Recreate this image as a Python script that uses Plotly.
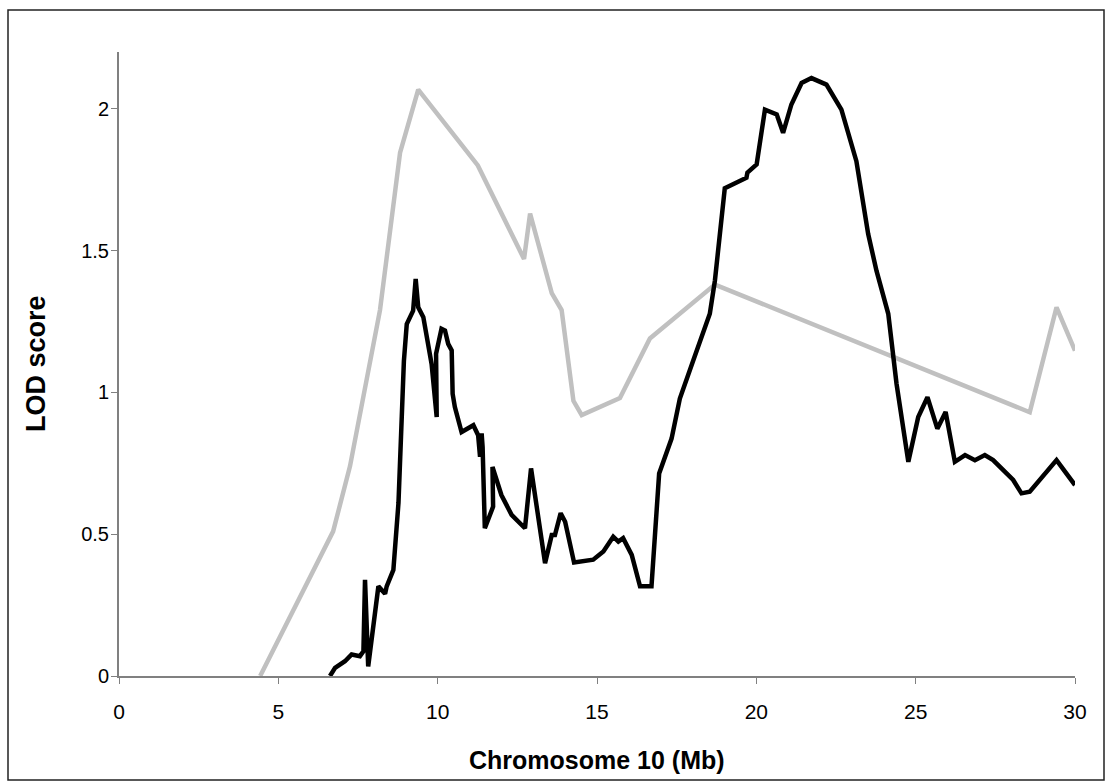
import plotly.graph_objects as go

# Gray series (LOD, second scan)
gray_x = [4.43, 6.72, 7.25, 7.72, 8.19, 8.82, 9.39, 11.26, 12.71, 12.90, 13.58, 13.89, 14.26, 14.52,
          15.72, 16.66, 18.70, 28.58, 29.42, 30.0]
gray_y = [0.0, 0.51, 0.74, 1.02, 1.29, 1.845, 2.067, 1.80, 1.47, 1.63, 1.35, 1.29, 0.97, 0.92,
          0.98, 1.19, 1.38, 0.93, 1.30, 1.147]

# Black series (LOD, main scan)
black_x = [6.62, 6.78, 7.09, 7.30, 7.56, 7.67, 7.72, 7.75, 7.82, 8.14, 8.35, 8.40, 8.61, 8.77, 8.87,
           8.94, 9.03, 9.23, 9.31, 9.39, 9.55, 9.81, 9.97, 9.95, 10.12, 10.23, 10.33, 10.44, 10.47,
           10.54, 10.75, 11.12, 11.27, 11.33, 11.38, 11.41, 11.48, 11.74, 11.72, 12.00, 12.32, 12.74,
           12.93, 13.37, 13.58, 13.68, 13.86, 14.00, 14.28, 14.88, 15.20, 15.51, 15.67, 15.82, 16.09,
           16.35, 16.71, 16.95, 17.34, 17.60, 18.02, 18.54, 18.70, 19.01, 19.69, 19.72, 20.01, 20.27,
           20.64, 20.84, 21.10, 21.42, 21.73, 22.20, 22.67, 23.14, 23.51, 23.77, 24.14, 24.40, 24.77,
           25.08, 25.37, 25.68, 25.94, 26.23, 26.55, 26.86, 27.17, 27.43, 28.06, 28.32, 28.58, 29.42,
           30.0]
black_y = [0.0, 0.029, 0.052, 0.076, 0.070, 0.087, 0.339, 0.20, 0.034, 0.316, 0.29, 0.316, 0.374, 0.61,
           0.878, 1.11, 1.241, 1.288, 1.40, 1.30, 1.265, 1.10, 0.913, 1.136, 1.224, 1.218, 1.171, 1.148,
           0.995, 0.948, 0.86, 0.884, 0.849, 0.773, 0.855, 0.808, 0.521, 0.597, 0.737, 0.638, 0.568,
           0.521, 0.732, 0.398, 0.497, 0.497, 0.574, 0.544, 0.40, 0.41, 0.439, 0.491, 0.474, 0.486, 0.427,
           0.316, 0.316, 0.714, 0.837, 0.978, 1.112, 1.277, 1.394, 1.72, 1.757, 1.775, 1.804, 1.997,
           1.98, 1.915, 2.015, 2.091, 2.108, 2.085, 1.997, 1.815, 1.558, 1.429, 1.277, 1.03, 0.755,
           0.913, 0.983, 0.872, 0.931, 0.755, 0.779, 0.761, 0.779, 0.761, 0.691, 0.644, 0.65, 0.761,
           0.673]

x_ticks = [0, 5, 10, 15, 20, 25, 30]
y_ticks = [0, 0.5, 1, 1.5, 2]
y_tick_labels = ["0", "0.5", "1", "1.5", "2"]

FONT = "Liberation Sans, Arial, sans-serif"

fig = go.Figure()
fig.add_trace(go.Scatter(x=gray_x, y=gray_y, mode="lines",
                         line=dict(color="#c0c0c0", width=4.5), showlegend=False))
fig.add_trace(go.Scatter(x=black_x, y=black_y, mode="lines",
                         line=dict(color="#000000", width=4.5), showlegend=False))

L, R, T, B = 119, 1075, 52, 676
W, H = 1112, 784
pw, ph = R - L, B - T

fig.update_layout(
    width=W, height=H,
    margin=dict(l=L, r=W - R, t=T, b=H - B),
    paper_bgcolor="white", plot_bgcolor="white",
    font=dict(family=FONT, size=20, color="black"),
    xaxis=dict(range=[0, 30], tickvals=x_ticks, ticks="outside", ticklen=6, tickcolor="#808080",
               showline=True, linecolor="#808080", linewidth=2, showgrid=False, zeroline=False,
               tickfont=dict(size=21, family=FONT), ticklabelstandoff=10, fixedrange=True),
    yaxis=dict(range=[0, 2.2], tickvals=y_ticks, ticktext=y_tick_labels, ticks="outside", ticklen=6,
               tickcolor="#808080", showline=True, linecolor="#808080", linewidth=2, showgrid=False,
               zeroline=False, tickfont=dict(size=20, family=FONT), ticklabelstandoff=-2,
               fixedrange=True),
    annotations=[
        dict(text="<b>Chromosome 10 (Mb)</b>", xref="paper", yref="paper",
             x=(597 - L) / pw, y=(B - 760) / ph, showarrow=False,
             font=dict(size=25, family=FONT), xanchor="center", yanchor="middle"),
        dict(text="<b>LOD score</b>", xref="paper", yref="paper",
             x=(36 - L) / pw, y=(B - 364) / ph, showarrow=False, textangle=-90,
             font=dict(size=27, family=FONT), xanchor="center", yanchor="middle"),
    ],
    shapes=[
        dict(type="rect", xref="paper", yref="paper",
             x0=(8 - L) / pw, x1=(1104 - L) / pw, y0=(B - 780) / ph, y1=(B - 10) / ph,
             line=dict(color="#222222", width=1.5), fillcolor="rgba(0,0,0,0)", layer="below"),
    ],
)

fig.write_html("out.html")
